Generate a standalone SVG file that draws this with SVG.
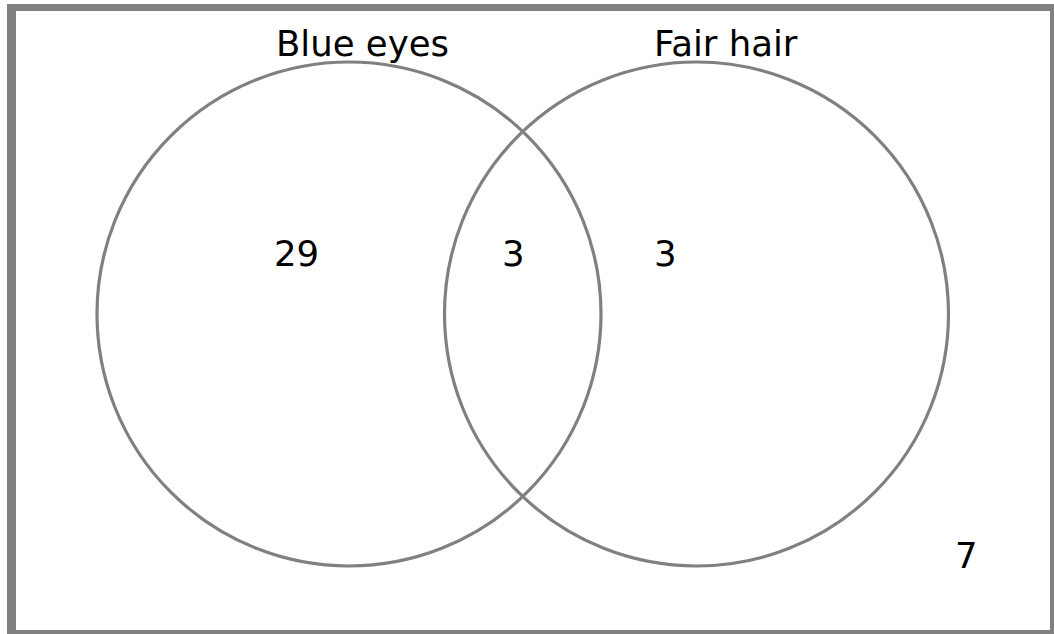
<svg xmlns="http://www.w3.org/2000/svg" width="1054" height="634" viewBox="0 0 1054 634">
<style>
.set{fill:none;stroke:#808080;stroke-width:3.2}
.t{font-family:"DejaVu Sans",sans-serif;font-size:35.5px;fill:#000}
</style>
<rect width="1054" height="634" fill="#fff"/>
<path id="frame" d="M7,4H1054V634H7Z M16,11V630H1050V11Z" fill="#808080" fill-rule="evenodd"/>
<g id="blue-eyes">
<circle class="set" cx="349" cy="314" r="252"/>
<text class="t" x="276" y="56">Blue eyes</text>
</g>
<g id="fair-hair">
<circle class="set" cx="696.5" cy="314" r="252"/>
<text class="t" x="654" y="56">Fair hair</text>
</g>
<g id="values">
<text class="t" x="274" y="266">29</text>
<text class="t" x="502" y="266">3</text>
<text class="t" x="654" y="266">3</text>
<text class="t" x="955" y="568">7</text>
</g>
</svg>
